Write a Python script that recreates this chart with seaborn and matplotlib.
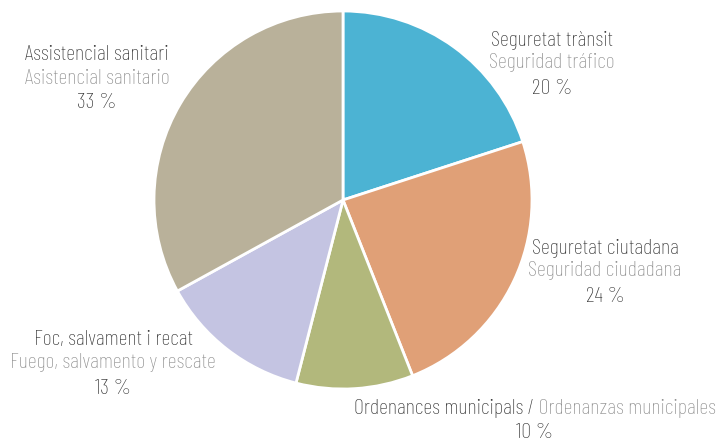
import matplotlib
matplotlib.use("Agg")
import matplotlib.pyplot as plt
import seaborn as sns

# === Dades ===
categories_ca = ["Seguretat trànsit", "Seguretat ciutadana", "Ordenances municipals",
                 "Foc, salvament i recat", "Assistencial sanitari"]
categories_es = ["Seguridad tráfico", "Seguridad ciudadana", "Ordenanzas municipales",
                 "Fuego, salvamento y rescate", "Asistencial sanitario"]
values = [20, 24, 10, 13, 33]
colors = ["#4cb3d3", "#e0a077", "#b2b87c", "#c4c4e2", "#b9b19a"]

DARK = "#333333"
GRAY = "#8e8e8e"

sns.set_theme(style="white")
plt.rcParams["font.family"] = ["Barlow Condensed", "DejaVu Sans"]
plt.rcParams["font.weight"] = "light"

fig = plt.figure(figsize=(7.18, 4.42), dpi=100)
ax = fig.add_axes([0, 0, 1, 1])

# pastís: comença a dalt, sentit horari
ax.pie(values, colors=colors, startangle=90, counterclock=False,
       center=(343, 242), radius=189, frame=True,
       wedgeprops={"edgecolor": "white", "linewidth": 2})
ax.set_xlim(0, 718)
ax.set_ylim(0, 442)
ax.set_aspect("equal")
ax.axis("off")

FS = 16

def label3(x, y_top, ca, es, pct):
    # y_top en píxels des de dalt
    ax.text(x, 442 - y_top, ca, ha="center", va="center", color=DARK, fontsize=FS)
    ax.text(x, 442 - y_top - 23, es, ha="center", va="center", color=GRAY, fontsize=FS)
    ax.text(x, 442 - y_top - 48, f"{pct} %", ha="center", va="center", color=DARK, fontsize=FS)

label3(552, 40, categories_ca[0], categories_es[0], values[0])
label3(605, 248, categories_ca[1], categories_es[1], values[1])
label3(113, 340, categories_ca[3], categories_es[3], values[3])
label3(97, 55, categories_ca[4], categories_es[4], values[4])

# ordenances: dues tintes a la mateixa línia
t1 = ax.text(534, 442 - 408, categories_ca[2] + " /", ha="right", va="center",
             color=DARK, fontsize=FS)
ax.annotate(" " + categories_es[2], xy=(1, 0.5), xycoords=t1, ha="left", va="center",
            color=GRAY, fontsize=FS)
ax.text(535, 442 - 432, f"{values[2]} %", ha="center", va="center", color=DARK, fontsize=FS)

fig.savefig("out.png", dpi=100)
